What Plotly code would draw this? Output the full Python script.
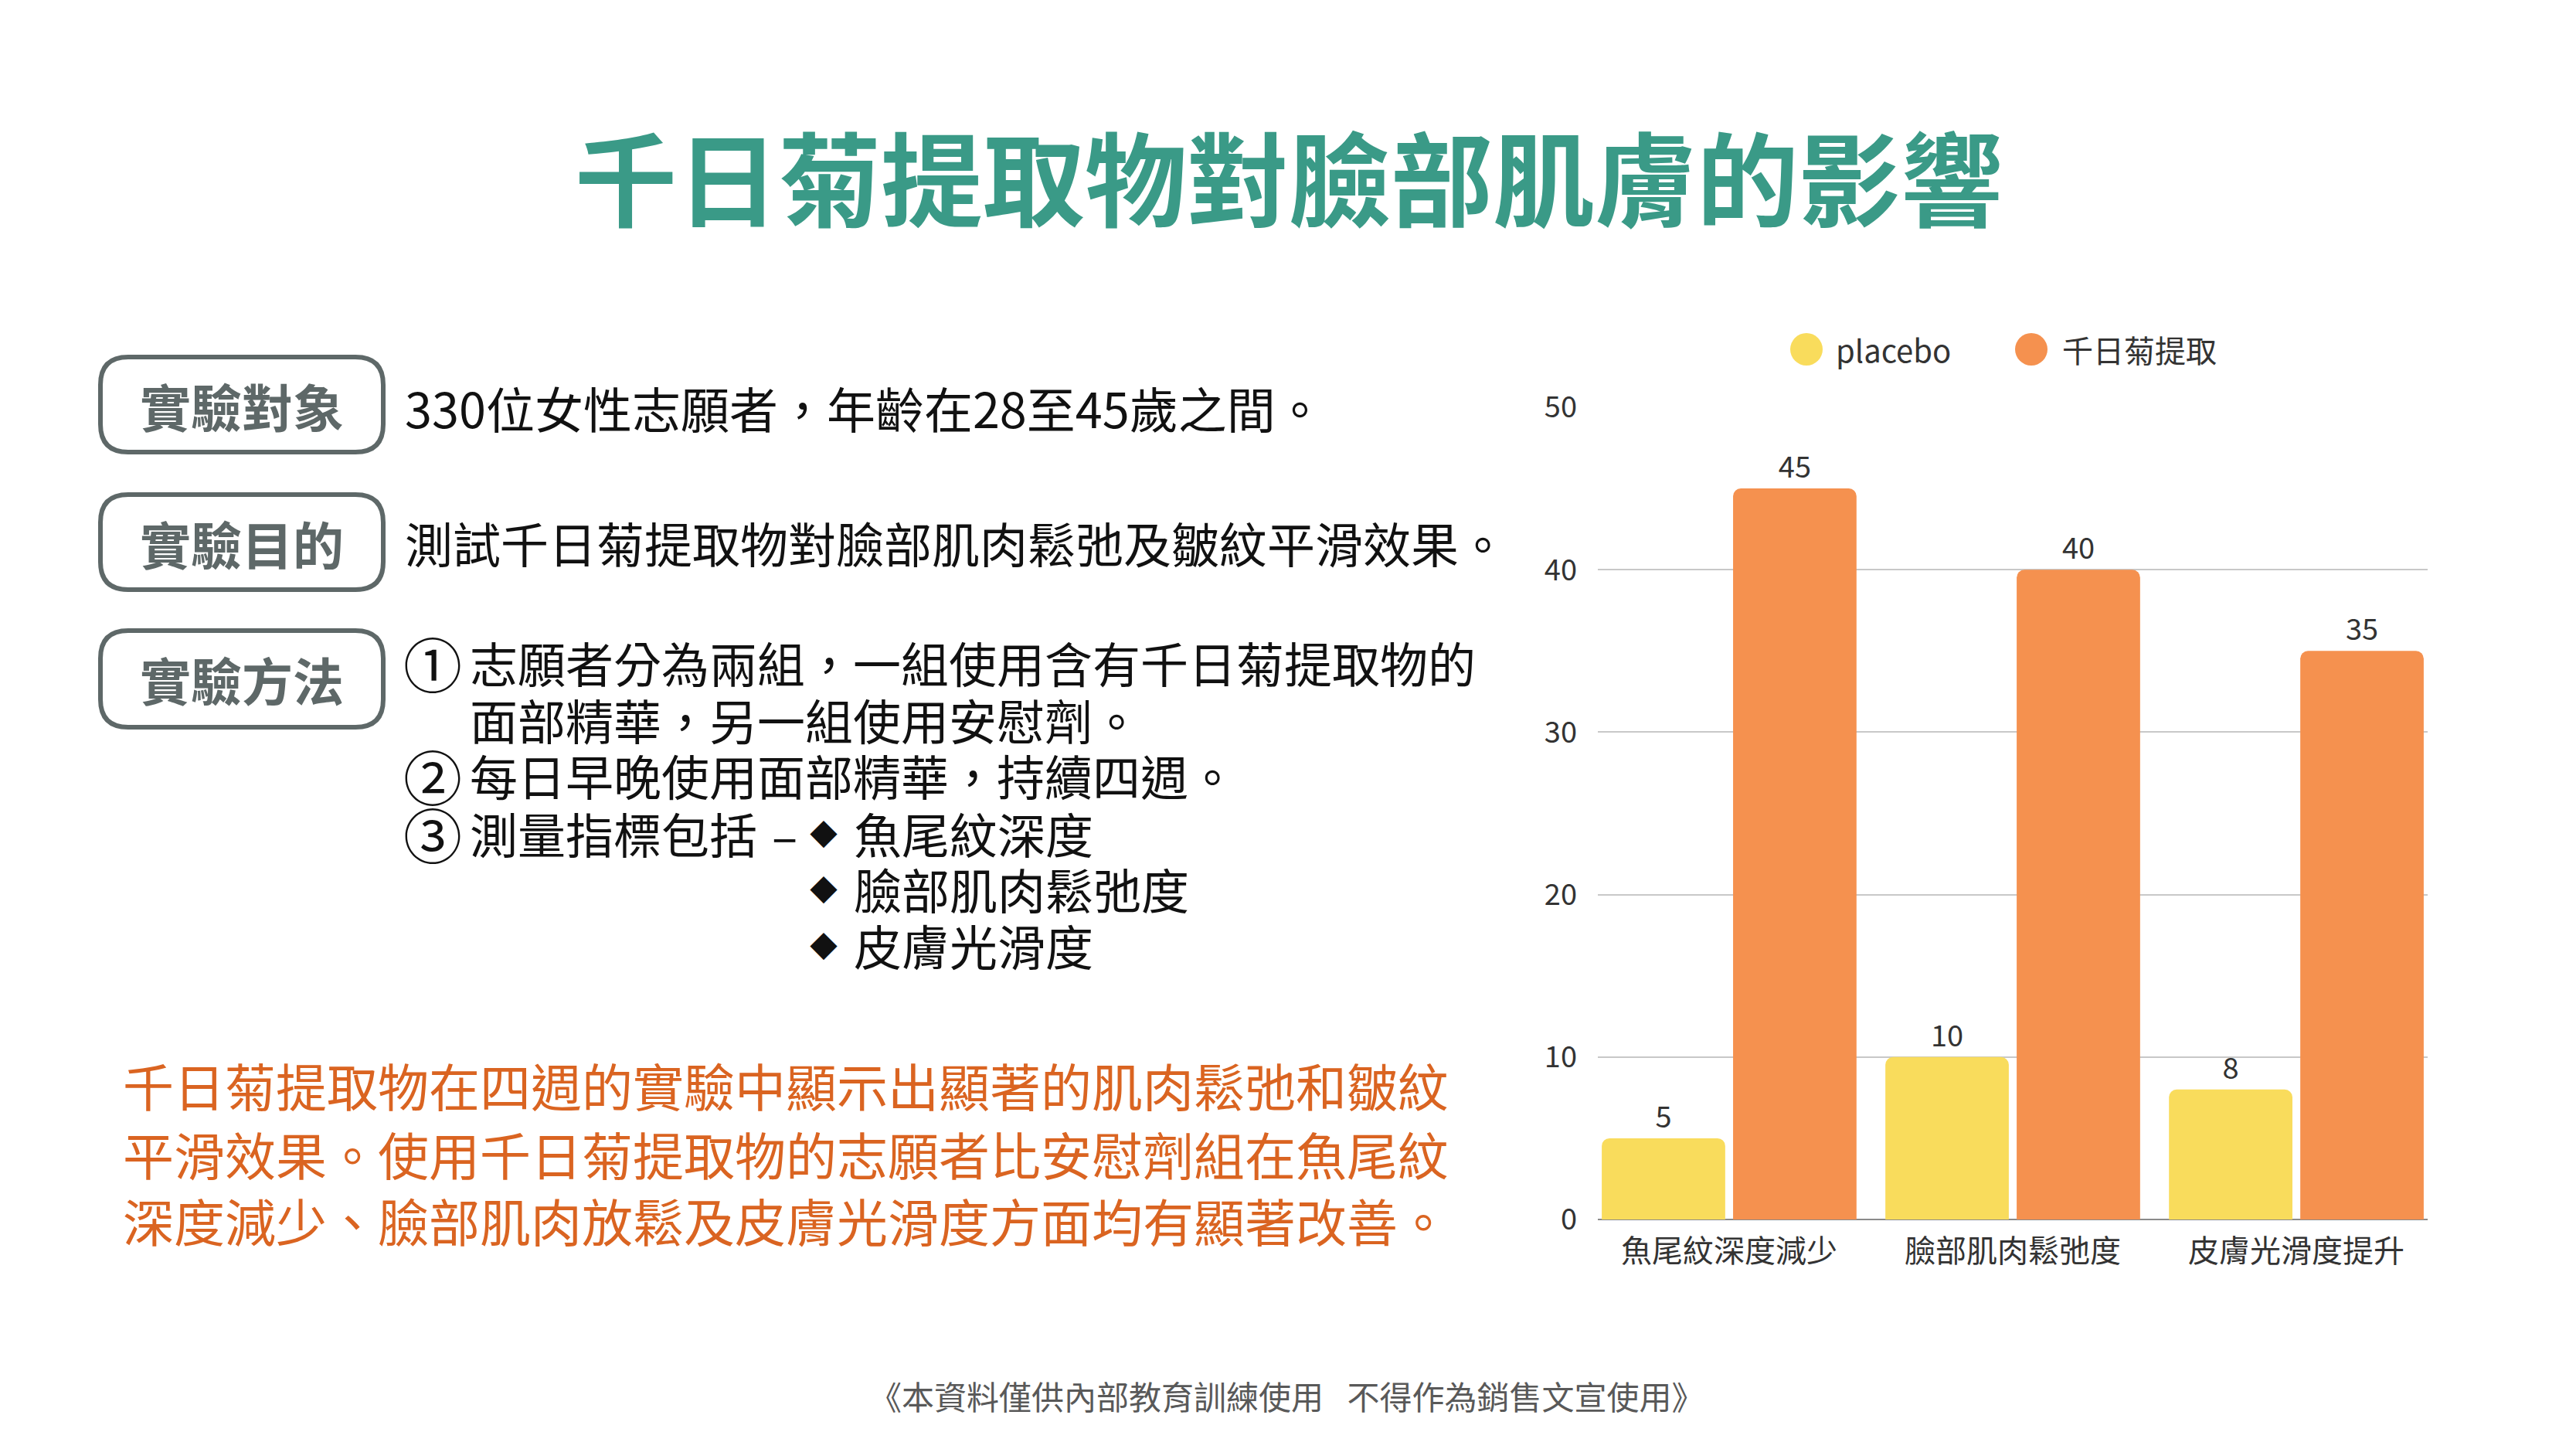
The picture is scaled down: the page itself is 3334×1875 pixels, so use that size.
import plotly.graph_objects as go

# ---------------- data ----------------
categories = ["魚尾紋深度減少", "臉部肌肉鬆弛度", "皮膚光滑度提升"]
series_names = ["placebo", "千日菊提取"]
placebo_values = [5, 10, 8]
extract_values = [45, 40, 35]
y_ticks = [0, 10, 20, 30, 40, 50]

title_text = "千日菊提取物對臉部肌膚的影響"
box_labels = ["實驗對象", "實驗目的", "實驗方法"]
subject_text = "330位女性志願者，年齡在28至45歲之間。"
purpose_text = "測試千日菊提取物對臉部肌肉鬆弛及皺紋平滑效果。"
method_marks = ["①", "②", "③"]
method_lines = ["志願者分為兩組，一組使用含有千日菊提取物的",
                "面部精華，另一組使用安慰劑。",
                "每日早晚使用面部精華，持續四週。",
                "測量指標包括"]
indicator_items = ["魚尾紋深度", "臉部肌肉鬆弛度", "皮膚光滑度"]
conclusion_lines = ["千日菊提取物在四週的實驗中顯示出顯著的肌肉鬆弛和皺紋",
                    "平滑效果。使用千日菊提取物的志願者比安慰劑組在魚尾紋",
                    "深度減少、臉部肌肉放鬆及皮膚光滑度方面均有顯著改善。"]
footer_text = "《本資料僅供內部教育訓練使用\u2002\u00a0不得作為銷售文宣使用》"

# ---------------- styling ----------------
VW, VH = 3334, 1875          # browser window
PAD = 8                      # default body margin of the page
W, H = VW - 2 * PAD, VH - 2 * PAD
FONT = "Noto Sans CJK TC"
YELLOW = "#F9DC5C"
ORANGE = "#F5914F"
TEAL = "#3A9A87"
GREY = "#5E6868"
ORANGE_TEXT = "#DA6421"


def px(X):
    return (X - PAD) / W


def py(Y):
    return 1 - (Y - PAD) / H


fig = go.Figure()
fig.add_trace(go.Bar(x=categories, y=placebo_values, name=series_names[0],
                     marker=dict(color=YELLOW, cornerradius=10, line=dict(width=0)),
                     text=placebo_values, textposition="outside", cliponaxis=False,
                     textfont=dict(family=FONT, size=38, color="#333333")))
fig.add_trace(go.Bar(x=categories, y=extract_values, name=series_names[1],
                     marker=dict(color=ORANGE, cornerradius=10, line=dict(width=0)),
                     text=extract_values, textposition="outside", cliponaxis=False,
                     textfont=dict(family=FONT, size=38, color="#333333")))

annotations = []
shapes = []


def ann(text, X, Y, size, color="#111111", xanchor="left", bold=False):
    annotations.append(dict(
        text=f"<b>{text}</b>" if bold else text,
        x=px(X), y=py(Y), xref="paper", yref="paper",
        xanchor=xanchor, yanchor="middle", showarrow=False,
        font=dict(family=FONT, size=size, color=color)))


def rounded_box(X0, Y0, X1, Y1, r, color, width):
    def P(X, Y):
        return f"{px(X):.6f},{py(Y):.6f}"
    path = (f"M {P(X0 + r, Y0)} L {P(X1 - r, Y0)} Q {P(X1, Y0)} {P(X1, Y0 + r)} "
            f"L {P(X1, Y1 - r)} Q {P(X1, Y1)} {P(X1 - r, Y1)} "
            f"L {P(X0 + r, Y1)} Q {P(X0, Y1)} {P(X0, Y1 - r)} "
            f"L {P(X0, Y0 + r)} Q {P(X0, Y0)} {P(X0 + r, Y0)} Z")
    shapes.append(dict(type="path", path=path, xref="paper", yref="paper",
                       line=dict(color=color, width=width), fillcolor="rgba(0,0,0,0)"))


# title
ann(title_text, 1668, 226, 132, TEAL, "center", bold=True)

# boxes
box_rows = [(459, 588), (637, 766), (813, 944)]
for label, (t, b) in zip(box_labels, box_rows):
    rounded_box(130, t + 3, 496, b - 3, 36, GREY, 6)
    ann(label, 313, (t + b) / 2, 66, GREY, "center", bold=True)

ann(subject_text, 522, 527, 63)
ann(purpose_text, 522, 702, 62)

# method
line_y = [857, 931, 1003, 1078, 1150, 1223]
ann(method_marks[0], 560, line_y[0], 76, "#111111", "center")
ann(method_lines[0], 606, line_y[0], 62)
ann(method_lines[1], 606, line_y[1], 62)
ann(method_marks[1], 560, line_y[2], 76, "#111111", "center")
ann(method_lines[2], 606, line_y[2], 62)
ann(method_marks[2], 560, line_y[3], 76, "#111111", "center")
ann(method_lines[3], 606, line_y[3], 62)
ann("–", 1015, line_y[3], 62, "#111111", "center")
for item, yy in zip(indicator_items, line_y[3:]):
    ann("◆", 1066, yy, 36, "#111111", "center")
    ann(item, 1103, yy, 62)

# conclusion
for line, yy in zip(conclusion_lines, [1403, 1492, 1578]):
    ann(line, 157, yy, 66, ORANGE_TEXT)

# footer
ann(footer_text, 1665, 1805, 42, "#595959", "center")

# manual legend
legend_items = [(series_names[0], YELLOW, 2338, 2374), (series_names[1], ORANGE, 2629, 2667)]
for name, col, cx, tx in legend_items:
    r = 21
    shapes.append(dict(type="circle", xref="paper", yref="paper",
                       x0=px(cx - r), x1=px(cx + r), y0=py(452 + r), y1=py(452 - r),
                       fillcolor=col, line=dict(width=0)))
    ann(name, tx, 452, 40, "#333333", "left")

fig.update_layout(
    width=W, height=H,
    margin=dict(l=0, r=0, t=0, b=0),
    paper_bgcolor="white", plot_bgcolor="white",
    barmode="group", bargap=0.074, bargroupgap=0.06,
    showlegend=False,
    font=dict(family=FONT, color="#333333"),
    annotations=annotations, shapes=shapes,
    xaxis=dict(domain=[px(2068), px(3142)], type="category", range=[-0.463, 2.463],
               showgrid=False, showline=False, ticks="", automargin=False,
               tickfont=dict(family=FONT, size=40, color="#333333"),
               ticklabelstandoff=14),
    yaxis=dict(domain=[py(1578), py(527)], range=[0, 50], tickvals=y_ticks,
               showgrid=True, gridcolor="#C8C8C8", gridwidth=2,
               zeroline=True, zerolinecolor="#8A8A8A", zerolinewidth=2,
               showline=False, ticks="", automargin=False,
               tickfont=dict(family=FONT, size=38, color="#333333"),
               ticklabelstandoff=26),
)

fig.write_html("out.html")
